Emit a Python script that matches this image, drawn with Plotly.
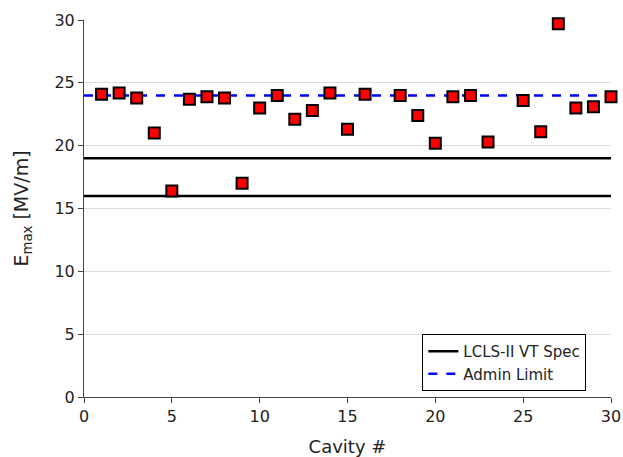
import plotly.graph_objects as go

cavity = [1, 2, 3, 4, 5, 6, 7, 8, 9, 10, 11, 12, 13, 14, 15, 16, 18, 19, 20, 21, 22, 23, 25, 26, 27, 28, 29, 30]
emax = [24.1, 24.2, 23.8, 21.0, 16.4, 23.7, 23.9, 23.8, 17.0, 23.0, 24.0, 22.1, 22.8, 24.2, 21.3, 24.1,
        24.0, 22.4, 20.2, 23.9, 24.0, 20.3, 23.6, 21.1, 29.7, 23.0, 23.1, 23.9]
spec_levels = [19, 16]
admin_limit = 24
x_span = [0, 30]

font = "'DejaVu Sans', sans-serif"

fig = go.Figure()

sx, sy = [], []
for lv in spec_levels:
    sx += x_span + [None]
    sy += [lv, lv, None]
fig.add_trace(go.Scatter(x=sx, y=sy, mode="lines", name="LCLS-II VT Spec",
                         line=dict(color="black", width=2.5), connectgaps=False))
fig.add_trace(go.Scatter(x=x_span, y=[admin_limit, admin_limit], mode="lines", name="Admin Limit",
                         line=dict(color="#0000ff", width=2.5, dash="dash")))
fig.add_trace(go.Scatter(x=cavity, y=emax, mode="markers", showlegend=False, cliponaxis=False,
                         marker=dict(symbol="square", size=11, color="#ff0000",
                                     line=dict(color="black", width=2))))

fig.update_layout(
    width=623, height=457,
    margin=dict(l=84, r=12, t=20, b=60, autoexpand=False),
    paper_bgcolor="white", plot_bgcolor="white",
    font=dict(family=font, size=16, color="#222"),
    showlegend=True,
    legend=dict(x=0.642, y=0.167, xanchor="left", yanchor="top",
                bgcolor="white", bordercolor="black", borderwidth=1,
                font=dict(size=15, family=font), tracegroupgap=0),
    xaxis=dict(range=[0, 30], tickvals=[0, 5, 10, 15, 20, 25, 30], showgrid=False, automargin=False,
               showline=True, linecolor="#444", linewidth=1, ticks="outside", ticklen=5,
               tickcolor="#444", zeroline=False, tickfont=dict(size=16),
               title=dict(text="Cavity #", font=dict(size=18), standoff=15)),
    yaxis=dict(range=[0, 30], tickvals=[0, 5, 10, 15, 20, 25, 30], showgrid=True, automargin=False,
               gridcolor="#dcdcdc", gridwidth=1,
               showline=True, linecolor="#444", linewidth=1, ticks="outside", ticklen=5,
               tickcolor="#444", zeroline=False, tickfont=dict(size=16),
               title=dict(text="E<sub>max</sub> [MV/m]", font=dict(size=19), standoff=20)),
)

fig.write_html("out.html")
